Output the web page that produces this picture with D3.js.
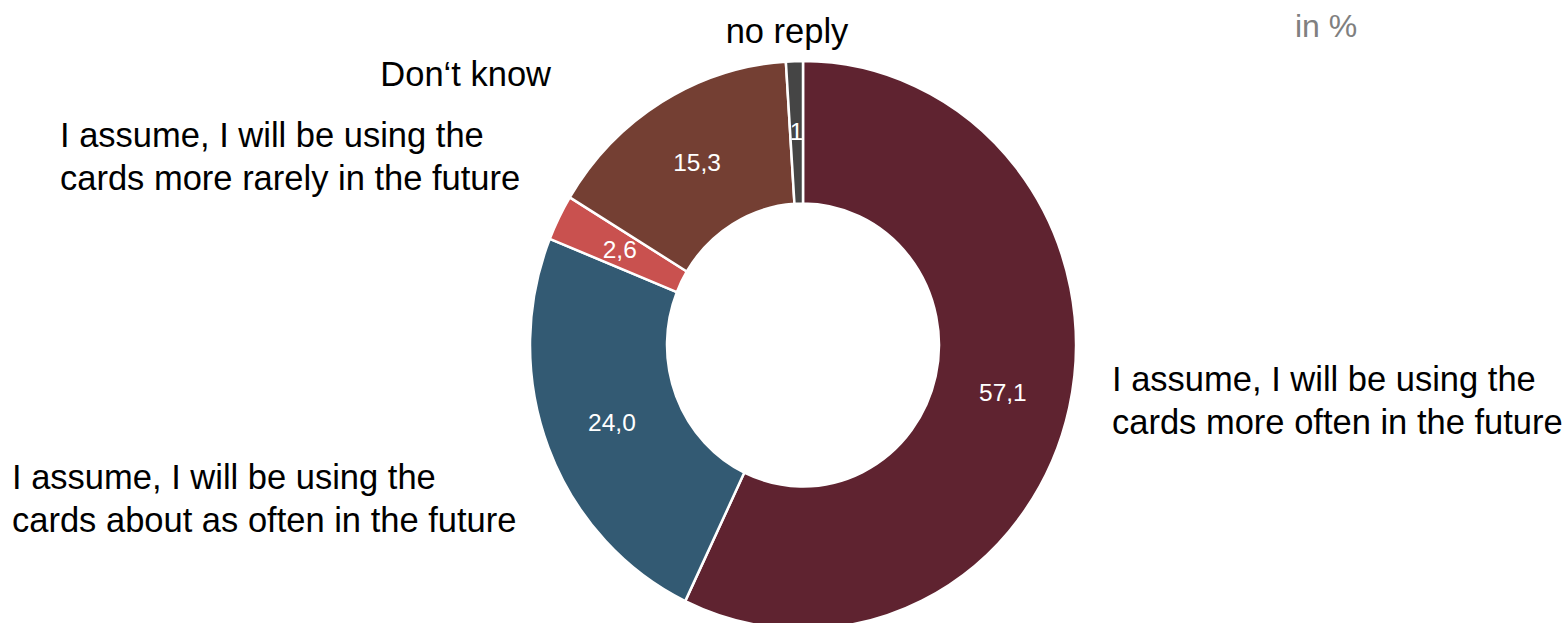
<!DOCTYPE html>
<html>
<head>
<meta charset="utf-8">
<script src="https://cdn.jsdelivr.net/npm/d3@7"></script>
<style>
  body { margin: 0; background: #fff; }
  text { font-family: Arial, 'Liberation Sans', sans-serif; }
</style>
</head>
<body>
<div class="donut-container"></div>
<script>
const labels = [
  ['I assume, I will be using the', 'cards more often in the future'],
  ['I assume, I will be using the', 'cards about as often in the future'],
  ['I assume, I will be using the', 'cards more rarely in the future'],
  ['Don\u2018t know'],
  ['no reply']
];
const values = [57.1, 24.0, 2.6, 15.3, 1];
const valueText = ['57,1', '24,0', '2,6', '15,3', '1'];
const colors = ['#5f2330', '#335a73', '#c9514f', '#743f33', '#454545'];

const width = 1568, height = 623;
const cx = 803, cy = 345;
const rOuter = 273, rInner = 136;
const sy = 1.04; // picture is slightly taller than wide

const svg = d3.select('.donut-container')
  .append('svg')
  .attr('width', width)
  .attr('height', height);

const pie = d3.pie().sort(null).value(d => d)
const arcs = pie(values);

const arc = d3.arc()
  .innerRadius(rInner)
  .outerRadius(rOuter);

const donut = svg.append('g')
  .attr('transform', `translate(${cx},${cy}) scale(1,${sy})`);

donut.selectAll('path')
  .data(arcs)
  .enter()
  .append('path')
  .attr('d', arc)
  .attr('fill', (d, i) => colors[i])
  .attr('stroke', '#ffffff')
  .attr('stroke-width', 2.5)
  .attr('vector-effect', 'non-scaling-stroke')
  .attr('stroke-linejoin', 'round');

// value labels at the arc centroid
const labelArc = d3.arc().innerRadius(205).outerRadius(205);

svg.append('g')
  .selectAll('text')
  .data(arcs)
  .enter()
  .append('text')
  .attr('x', d => cx + labelArc.centroid(d)[0])
  .attr('y', d => cy + labelArc.centroid(d)[1] * sy)
  .attr('dy', '0.35em')
  .attr('text-anchor', 'middle')
  .attr('fill', '#ffffff')
  .attr('font-size', 24.5)
  .text((d, i) => valueText[i]);

// category labels
const labelPos = [
  { x: 1112, y: 391, anchor: 'start' },
  { x: 12, y: 489, anchor: 'start' },
  { x: 60, y: 147, anchor: 'start' },
  { x: 551, y: 86, anchor: 'end' },
  { x: 787, y: 43, anchor: 'middle' }
];

const cats = svg.append('g');

labels.forEach((lines, i) => {
  let p = labelPos[i];
  let t = cats.append('text')
    .attr('x', p.x)
    .attr('y', p.y)
    .attr('text-anchor', p.anchor)
    .attr('font-size', 34.5)
    .attr('fill', '#000000');

  lines.forEach((l, j) => {
    t.append('tspan')
      .attr('x', p.x)
      .attr('dy', j == 0 ? 0 : 43)
      .text(l);
  })
})

svg.append('text')
  .attr('x', 1295)
  .attr('y', 37)
  .attr('font-size', 32)
  .attr('fill', '#808080')
  .text('in %');
</script>
</body>
</html>
